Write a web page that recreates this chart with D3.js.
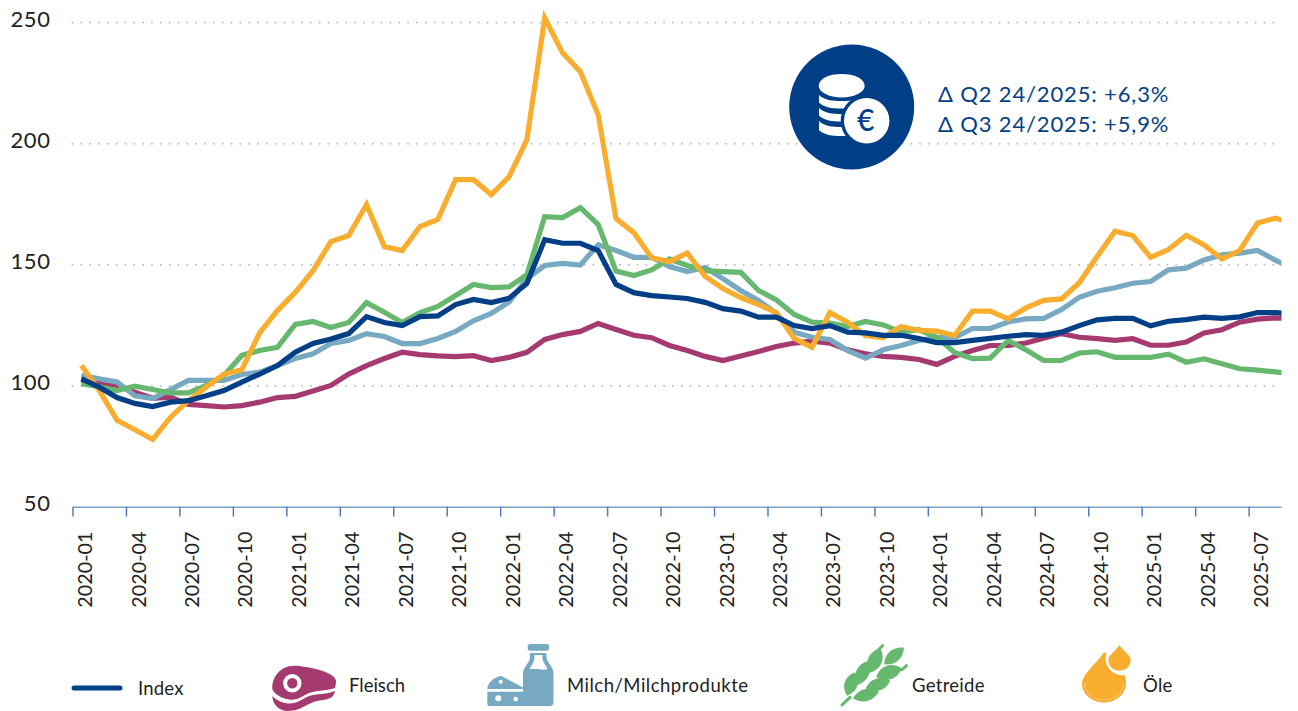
<!DOCTYPE html>
<html><head><meta charset="utf-8">
<script src="https://cdn.jsdelivr.net/npm/d3@7"></script>
<style>
html,body{margin:0;padding:0;background:#fff}
svg{display:block}
text{font-family:Lato,sans-serif;fill:#222}
</style></head><body>
<svg id="c" width="1298" height="711"></svg>
<script>
const months = [
"2020-01","2020-02","2020-03","2020-04","2020-05","2020-06","2020-07","2020-08","2020-09","2020-10","2020-11","2020-12",
"2021-01","2021-02","2021-03","2021-04","2021-05","2021-06","2021-07","2021-08","2021-09","2021-10","2021-11","2021-12",
"2022-01","2022-02","2022-03","2022-04","2022-05","2022-06","2022-07","2022-08","2022-09","2022-10","2022-11","2022-12",
"2023-01","2023-02","2023-03","2023-04","2023-05","2023-06","2023-07","2023-08","2023-09","2023-10","2023-11","2023-12",
"2024-01","2024-02","2024-03","2024-04","2024-05","2024-06","2024-07","2024-08","2024-09","2024-10","2024-11","2024-12",
"2025-01","2025-02","2025-03","2025-04","2025-05","2025-06","2025-07","2025-08","2025-09"];
const tickLabels = ["2020-01","2020-04","2020-07","2020-10","2021-01","2021-04","2021-07","2021-10","2022-01","2022-04","2022-07","2022-10","2023-01","2023-04","2023-07","2023-10","2024-01","2024-04","2024-07","2024-10","2025-01","2025-04","2025-07"];
const yTicks = [50,100,150,200,250];
const indexValues = [103,99.6,95.3,92.9,91.6,93.4,94,96,98.2,101.7,105,108.5,114,117.6,119.5,121.7,128.7,126.3,125,128.7,129,133.7,135.8,134.5,136.3,142.4,160.5,159,159,156,142,138.6,137.4,136.8,136.2,134.6,132,131,128.5,128.5,125,123.8,125,122.3,122,121,121,119.7,118,118,118.9,119.7,120.6,121.3,121,122.3,125,127.4,128,128,124.9,126.8,127.5,128.5,128,128.6,130.4,130.4,129.8];
const fleisch = [102.5,101.2,100.3,97.5,95,95.5,92.5,92,91.4,92,93.4,95.3,95.8,98,100.3,105,108.5,111.4,114,113,112.5,112.2,112.6,110.6,111.9,114,119.3,121.3,122.6,125.9,123.4,121,120,116.8,114.7,112.3,110.6,112.5,114.3,116.4,117.8,118.6,117.8,115,113.4,112.3,111.9,111,109,112.3,114.7,116.8,116.8,117.8,119.8,121.7,120.2,119.6,118.9,119.6,116.9,116.9,118.2,122,123.3,126.4,127.7,128.2,128];
const milch = [104.4,103,101.7,96,94.9,98.6,102.4,102.4,102.4,104.8,105.8,108.5,111.4,113.4,117.6,118.9,121.7,120.5,117.6,117.6,119.7,122.6,127,130,134.7,144.4,149.8,150.7,150,158.4,156,153.2,153.2,149.4,147.3,149,144.4,139.5,135.4,130,122.3,120.2,119.3,114.7,111.6,115,116.8,118.9,120,120,123.8,123.8,126.5,127.8,128,131.6,136.7,139.2,140.6,142.5,143.2,148,148.7,152.1,154.2,154.9,156,152,148.5];
const getreide = [101,99.7,98.2,100,98.6,97.2,97.2,100.3,104.4,112.7,114.7,116,125.5,126.7,124.2,126.3,134.5,130.5,126.3,130.4,132.9,137.4,142,140.7,141,146,170,169.6,173.7,166.7,147.5,145.7,148,152.5,149.8,147.7,147.3,147,139.5,135.6,129.6,126.4,126,124.6,126.7,125.3,122.3,123.3,120.2,113.9,111.4,111.6,118.9,115,110.6,110.6,113.7,114.2,111.9,111.9,111.9,113.2,109.9,111.3,109.3,107.2,106.6,105.9,105.2];
const oele = [108.5,98.2,85.9,82,78,87.2,94,99.6,105,106.8,122,131.2,138.7,147.7,159.7,162.2,175,157.6,156,165.9,168.8,185.3,185.3,179,186.5,201.7,252,237.6,229.8,212,169.2,163.4,153,151.4,155,145.3,140.3,136.6,133.7,130.4,119.7,116.1,130.4,126.4,120.9,120,124.6,123,122.7,120.9,131,131,127.8,132.3,135.4,136,142.7,153.5,164,162.2,153.2,156.4,162.3,158.3,152.5,156,167.4,169.3,167.3];
const seriesNames = ["Fleisch","Milch/Milchprodukte","Getreide","Öle","Index"];
const annotationLines = ["Δ Q2 24/2025: +6,3%","Δ Q3 24/2025: +5,9%"];

const C = {index:"#033f87",fleisch:"#a53a70",milch:"#78a9c2",getreide:"#67b86f",oele:"#f9ad2f"};
const svg = d3.select("#c");
const step = 17.82, left = 72.5, right = 1281.5;
const xEdge = d3.scalePoint().domain(months).range([left, left + step*(months.length-1)]);
const x = m => xEdge(m) + step/2;
const y = d3.scaleLinear().domain([50,250]).range([506.5,22]);

svg.append("defs").append("clipPath").attr("id","plot").append("rect")
  .attr("x",0).attr("y",0).attr("width",right).attr("height",711);

// grid + y labels
const gy = svg.append("g").attr("transform",`translate(${left},0)`)
  .call(d3.axisLeft(y).tickValues(yTicks).tickFormat(d3.format("d")).tickSize(-(right-left)).tickPadding(22));
gy.select(".domain").remove();
gy.selectAll("line").attr("stroke","#bdbdbd").attr("stroke-width",2).attr("stroke-linecap","round")
  .attr("stroke-dasharray","0 8.83").style("display",d=>d===50?"none":null);
gy.selectAll("text").attr("font-size",22).attr("letter-spacing",0.6).attr("dy","0.2em").attr("fill","#222").style("font-family","Lato,sans-serif");

// x axis
const gx = svg.append("g").attr("transform","translate(0,506.5)").attr("clip-path","url(#plot)")
  .call(d3.axisBottom(xEdge).tickValues(tickLabels).tickSize(10).tickSizeOuter(0));
gx.select(".domain").attr("stroke","#4f7fb8").attr("stroke-width",1.5);
gx.selectAll("line").attr("stroke","#4f7fb8").attr("stroke-width",1.5);
gx.selectAll("text").attr("font-size",19.8).attr("fill","#222").style("font-family","Lato,sans-serif")
  .attr("text-anchor","end").attr("x",null).attr("y",null).attr("dy","0.36em")
  .attr("transform",`translate(${step/2+3},25) rotate(-90)`);

// series
const line = d3.line().x((d,i)=>x(months[i])).y(d=>y(d)).curve(d3.curveLinear);
const gl = svg.append("g").attr("clip-path","url(#plot)").append("g").attr("transform","translate(0,0.8)").attr("fill","none").attr("stroke-width",5.2).attr("stroke-linejoin","miter");
[[fleisch,C.fleisch],[milch,C.milch],[getreide,C.getreide],[oele,C.oele],[indexValues,C.index]]
  .forEach(([v,c])=>gl.append("path").datum(v).attr("d",line).attr("stroke",c));

// coin badge
const b = svg.append("g");
b.append("circle").attr("cx",851.7).attr("cy",107).attr("r",62.5).attr("fill",C.index);
b.append("ellipse").attr("cx",841.7).attr("cy",85.7).attr("rx",23).attr("ry",11.8).attr("fill","#fff");
[95,108,121].forEach((t,i)=>{
  const h=i===2?10:8.5;
  b.append("path").attr("fill","#fff").attr("d",
   `M819,${t} C824,${t+5} 832,${t+6} 842,${t+6} C852,${t+6} 860,${t+5} 865,${t} L865,${t+h} C860,${t+h+5} 850,${t+h+5} 842,${t+h+5} C832,${t+h+5} 824,${t+h+4} 819,${t+h-1} Z`);
});
b.append("circle").attr("cx",866.7).attr("cy",120.7).attr("r",26).attr("fill",C.index);
b.append("circle").attr("cx",866.7).attr("cy",120.7).attr("r",22.7).attr("fill","#fff");
b.append("text").attr("x",865.7).attr("y",131).attr("text-anchor","middle").attr("font-size",30).attr("font-weight",500).text("€").style("fill",C.index);

annotationLines.forEach((t,i)=>svg.append("text").attr("x",938).attr("y",102+i*29.5)
  .attr("font-size",22).attr("letter-spacing",0.85).style("fill",C.index).text(t));

// legend
svg.append("line").attr("x1",74).attr("x2",120).attr("y1",688).attr("y2",688)
  .attr("stroke",C.index).attr("stroke-width",5).attr("stroke-linecap","round");
const lg = svg.append("g").attr("font-size",18.5);
[["Index",138,695,0.2],[seriesNames[0],349,692,0],[seriesNames[1],567,692,0.5],[seriesNames[2],912,692,0.3],[seriesNames[3],1143,692,0.3]]
  .forEach(([t,px,py,ls])=>lg.append("text").attr("x",px).attr("y",py).attr("letter-spacing",ls).text(t));

// Fleisch icon
const f = svg.append("g").attr("fill",C.fleisch);
f.append("path").attr("d","M272.5,690 C271,678 280,665.7 294,665.7 C306,665.7 336,672 336,681 C336,684 335.5,686 335,688 C326,691 314,690 306,694.5 C300,698 296,700.5 289,699.5 C282,698.5 276,695 273,690.5 Z");
f.append("path").attr("d","M272.5,696 C277,701 284,703.5 290,703.5 C297,703.5 302,699 309,696 C316,693.5 327,694.5 335,691 C334,697 330,699 323,700 C314,701 309,704 303,707 C298,710 292,711 286,711 C278,710 272,703 272.5,696 Z");
f.append("circle").attr("cx",292.3).attr("cy",683.3).attr("r",7.2).attr("fill","none").attr("stroke","#fff").attr("stroke-width",4);

// Milch icon
const m = svg.append("g").attr("fill",C.milch);
m.append("rect").attr("x",527.7).attr("y",644).attr("width",21.3).attr("height",6.8).attr("rx",2.5);
m.append("path").attr("fill-rule","evenodd").attr("d",
 "M530,653 L546.5,653 L546.5,658 C548,663 553.5,668 553.5,673 L553.5,702 Q553.5,706 549.5,706 L527,706 Q523,706 523,702 L523,673 C523,668 529,663 530,658 Z M534.5,655 L542.5,655 L542.5,659 C543.5,663 546,666 547.5,669 C543,671 538,668 529.5,669.5 C531,666 533.5,663 534.5,659 Z");
m.append("path").attr("d","M487.3,689 C487.5,682 494,678 500.7,675.7 L525,688.5 L525,689 Z");
m.append("path").attr("d","M487.3,691.7 L525,691.7 L525,706 L489.3,706 Q487.3,706 487.3,704 Z");
m.append("g").attr("fill","#fff").selectAll("circle").data([[500.7,681.7,2],[498.3,698.3,3],[515.7,699,2.3]]).join("circle")
  .attr("cx",d=>d[0]).attr("cy",d=>d[1]).attr("r",d=>d[2]);

// Getreide icon
const w = svg.append("g").attr("fill",C.getreide);
[[866,695,13.5,-15,6.2],[878,684.5,13,-17,6.2],[889,672.5,13.5,-18,7.2],[894,656,13,-40,6.2],[875,660.5,13.5,-67,7.2],[862.5,673,13,-67,6.7],[851,684,12.5,-71,6.7]]
  .forEach(([cx,cy,r,a,h])=>w.append("path").attr("transform",`translate(${cx},${cy}) rotate(${a})`)
    .attr("d",`M${-r},0 C${-r*0.4},${-h*1.3} ${r*0.4},${-h*1.3} ${r},0 C${r*0.4},${h*1.3} ${-r*0.4},${h*1.3} ${-r},0 Z`));
w.selectAll("line").data([[842,705,850,697.3],[878.3,650,882.7,645.5],[901.7,670,906.5,665.7]]).join("line")
  .attr("x1",d=>d[0]).attr("y1",d=>d[1]).attr("x2",d=>d[2]).attr("y2",d=>d[3])
  .attr("stroke",C.getreide).attr("stroke-width",3).attr("stroke-linecap","round");

// Öle icon
const o = svg.append("g").attr("fill",C.oele);
o.append("path").attr("d","M1104.3,652 C1097,663 1082,674 1082,684 C1082,694 1092,702.5 1104,702.5 C1116,702.5 1126,694 1126,683 C1126,680 1125.5,677.5 1124.5,675 C1117,676 1110,672 1107,665 C1105,661 1105.5,657 1106.5,654 Z");
o.append("path").attr("d","M1119.3,645 C1115,652 1108.3,655 1108.3,660 C1108.3,666 1113,670.7 1119.5,670.7 C1126,670.7 1130.7,666 1130.7,660 C1130.7,655 1124,652 1119.3,645 Z");
o.append("path").attr("fill","none").attr("stroke","#fcd08a").attr("stroke-width",0.7)
  .attr("d","M1084.5,683 C1084.5,693 1093,700 1104,700 C1115,700 1123.5,693 1123.5,683");
</script>
</body></html>
